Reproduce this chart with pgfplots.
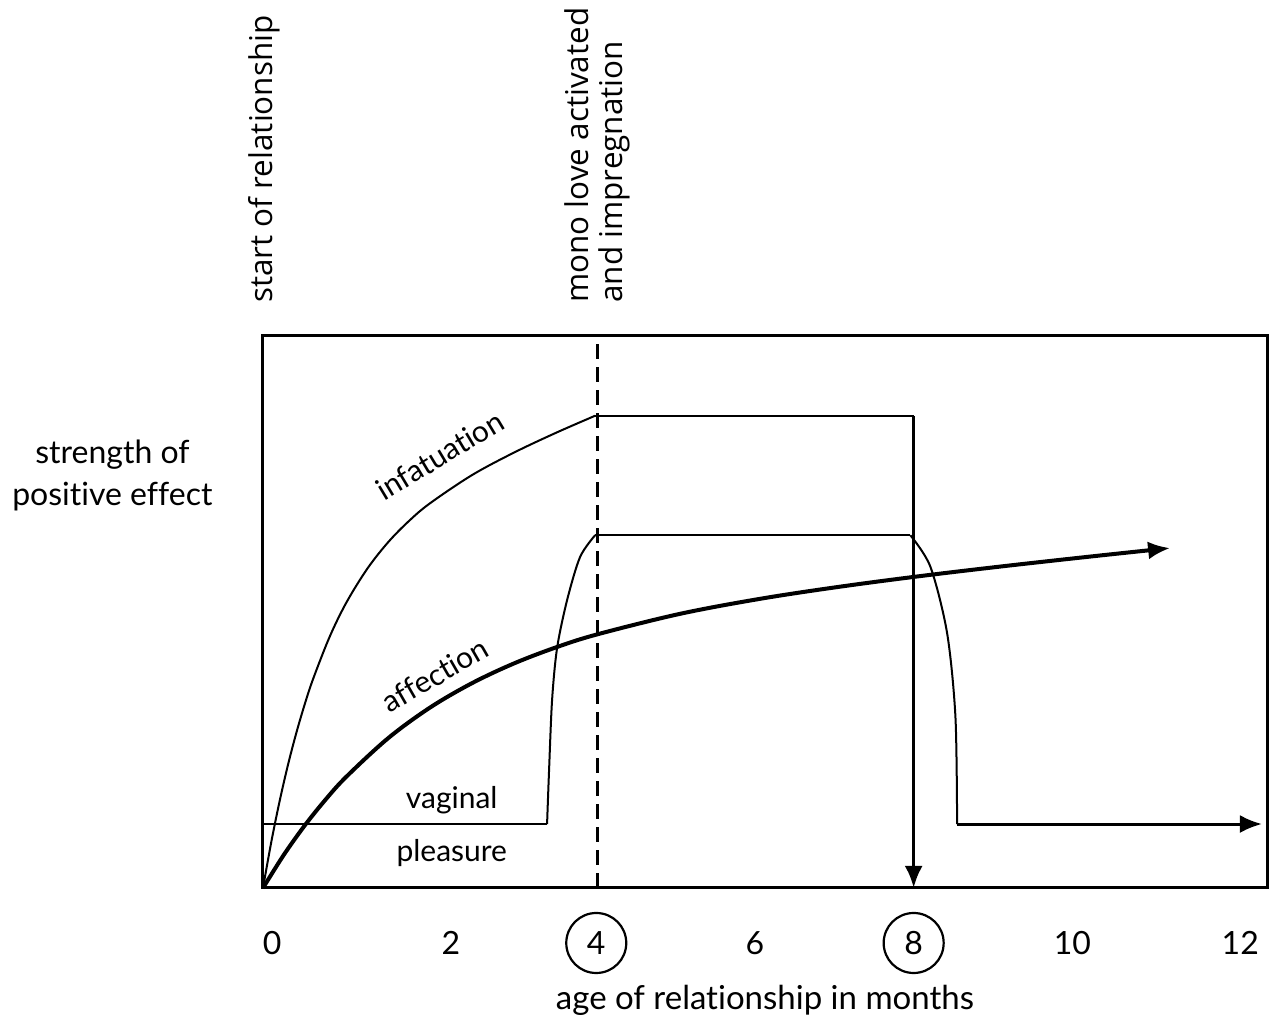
\documentclass[border=0pt]{standalone}
\usepackage{fontspec}
\setmainfont{Lato}[Ligatures={NoCommon,NoRare}]
\newfontfamily\osans{Open Sans}[Ligatures={NoCommon,NoRare}]
\usepackage{pgfplots}
\pgfplotsset{compat=1.18}
\usetikzlibrary{arrows.meta}
\begin{document}
\begin{tikzpicture}[x=1pt,y=1pt]
\useasboundingbox (-131.5,-70) rectangle (504,444);
\begin{axis}[
  at={(0,0)}, anchor=south west,
  scale only axis, width=502pt, height=276pt,
  xmin=0, xmax=12.02, ymin=0, ymax=10,
  axis line style={line width=1.5pt},
  clip=false,
  xtick={0.11,2.25,5.89,9.69,11.7},
  xticklabels={0,2,6,10,12},
  extra x ticks={3.99,7.79},
  extra x tick labels={4,8},
  extra x tick style={tick label style={draw,circle,line width=1.1pt,inner sep=3pt,minimum size=30pt}},
  ytick=\empty,
  major tick length=0pt,
  tick label style={font=\fontsize{16}{19}\selectfont},
  x tick label style={anchor=center,yshift=-27.5pt},
  xlabel={age of relationship in months},
  xlabel style={font=\fontsize{16.5}{19}\selectfont,at={(axis description cs:0.5,0)},anchor=center,yshift=-56pt},
  ylabel={strength of\\positive effect},
  ylabel style={font=\fontsize{16}{21}\selectfont,align=center,rotate=-90,at={(axis description cs:-0.150,0.748)},anchor=center},
]
% dashed marker at month 4
\addplot[line width=1.4pt, dash pattern=on 7.5pt off 4pt] coordinates {(4.0,0) (4.0,10)};
% infatuation
\addplot[line width=1pt, smooth, tension=0.55] coordinates {
 (0,0) (0.1,0.839) (0.2,1.580) (0.3,2.236) (0.4,2.815) (0.5,3.330) (0.6,3.787) (0.8,4.558) (1.0,5.176) (1.25,5.787) (1.5,6.267) (1.75,6.652) (2.0,6.970) (2.5,7.478) (3.0,7.884) (3.5,8.241) (3.976,8.555)};
\addplot[line width=1.2pt] coordinates {(3.976,8.555) (7.79,8.555)};
\addplot[line width=1.8pt, -{Latex[length=11pt,width=9pt]}] coordinates {(7.79,8.555) (7.79,0)};
% affection
\addplot[line width=2pt, smooth, tension=0.55, -{Latex[length=11pt,width=9pt]}] coordinates {
 (0,0) (0.25,0.602) (0.5,1.133) (0.75,1.603) (1,2.019) (1.5,2.716) (2,3.269) (2.5,3.709) (3,4.065) (3.5,4.355) (4,4.594) (5,4.969) (6,5.251) (7,5.478) (8,5.675) (9,5.853) (10,6.020) (10.86,6.158)};
% vaginal pleasure
\addplot[line width=1.2pt] coordinates {(0,1.159) (3.401,1.159)};
\addplot[line width=1pt, smooth, tension=0.5] coordinates {
 (3.401,1.159) (3.425,2.138) (3.461,3.406) (3.521,4.348) (3.641,5.217) (3.796,5.996) (3.976,6.39)};
\addplot[line width=1.2pt] coordinates {(3.976,6.39) (7.75,6.39)};
\addplot[line width=1pt, smooth, tension=0.5] coordinates {
 (7.75,6.39) (7.99,5.82) (8.19,4.62) (8.29,3.10) (8.31,1.159)};
\addplot[line width=1.5pt, -{Latex[length=11pt,width=9pt]}] coordinates {(8.31,1.159) (11.96,1.159)};
% curve labels
\node[rotate=31, font=\fontsize{15}{18}\selectfont] at (axis cs:2.12,7.84) {infatuation};
\node[rotate=30, font=\fontsize{15}{18}\selectfont] at (axis cs:2.06,3.86) {affection};
\node[font=\fontsize{15}{18}\selectfont] at (axis cs:2.26,1.59) {vaginal};
\node[font=\fontsize{15}{18}\selectfont] at (axis cs:2.26,0.63) {pleasure};
% top annotations
\node[rotate=90, anchor=west, inner sep=0pt, font=\osans\fontsize{15.7}{17}\selectfont] at ([yshift=16.5pt]axis cs:0.02,10) {start of relationship};
\node[rotate=90, anchor=west, inner sep=0pt, align=left, font=\osans\fontsize{15.7}{17}\selectfont] at ([yshift=16.5pt]axis cs:4.0,10) {mono love activated\\and impregnation};
\end{axis}
\end{tikzpicture}
\end{document}
